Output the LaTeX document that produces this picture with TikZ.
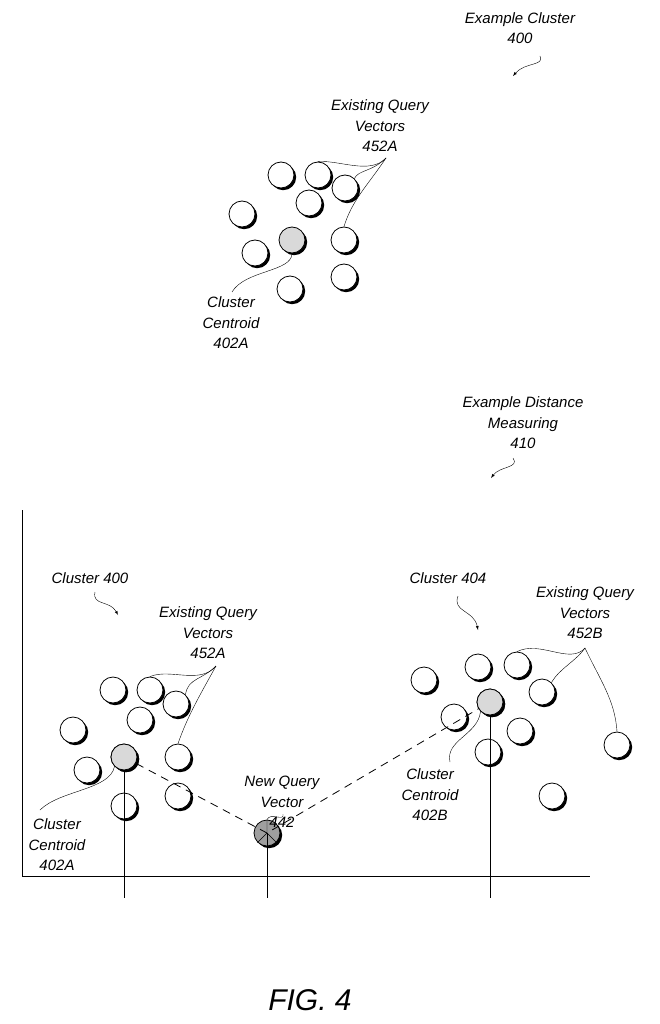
\documentclass[tikz,border=0pt]{standalone}
\usepackage{fontspec}
\setmainfont{Liberation Sans}
\usetikzlibrary{shadows}
\usetikzlibrary{positioning}
\tikzset{
  vec/.style={circle, draw=black, thick, fill=white, minimum size=26pt, inner sep=0pt,
    drop shadow={shadow xshift=2.2pt, shadow yshift=-2.2pt, fill=black, opacity=1}},
  cent/.style={vec, fill=gray!30},
  newq/.style={vec, fill=gray!75},
  lbl/.style={align=center, font=\fontsize{15}{20.5}\selectfont\itshape, inner sep=0pt},
  lead/.style={thin},
  pointer/.style={thin, -latex}
}
\begin{document}
\begin{tikzpicture}[x=1pt,y=-1pt]
  \useasboundingbox (0,0) rectangle (659,1024);
  % top cluster
  \node[lbl] (ex400) at (520,28) {Example Cluster\\400};
  \draw[pointer] (540,56) .. controls (545,66) and (525,62) .. (513,76);
  \foreach \n/\x/\y in {a1/281/175, a2/318/175, a3/345/188, a4/309/203, a5/242/214,
                        a6/344/240, a7/255/253, a8/290/289, a9/344/277}
    \node[vec] (\n) at (\x,\y) {};
  \node[cent] (ca) at (292,240) {};
  \node[lbl] (qa) at (380,126) {Existing Query\\Vectors\\452A};
  \coordinate (qtip) at (386,158);
  \draw[lead] (qtip) .. controls (370,175) and (340,160) .. (a2.north);
  \draw[lead] (qtip) .. controls (372,172) and (358,170) .. (a3.north east);
  \draw[lead] (qtip) .. controls (368,185) and (352,200) .. (a6.north);
  \node[lbl] (la) at (231,323) {Cluster\\Centroid\\402A};
  \draw[lead] (ca.south) .. controls (292,272) and (245,270) .. (232,292);
  % bottom
  \node[lbl] (ex410) at (523,423) {Example Distance\\Measuring\\410};
  \draw[pointer] (513,458) .. controls (520,468) and (500,466) .. (491,478);
  \coordinate (o) at (22,876);
  \draw[thick] (22,510) -- (o) -- (590,876);
  % left cluster
  \node[lbl] (c400) at (90,578) {Cluster 400};
  \draw[pointer] (95,592) .. controls (92,606) and (110,600) .. (118,615);
  \foreach \n/\x/\y in {b1/113/690, b2/150/690, b3/176/704, b4/140/720, b5/73/730,
                        b6/178/757, b7/87/770, b8/124/806, b9/178/796}
    \node[vec] (\n) at (\x,\y) {};
  \node[cent] (cb) at (124,757) {};
  \node[lbl] (qb) at (208,633) {Existing Query\\Vectors\\452A};
  \coordinate (qbtip) at (216,666);
  \draw[lead] (qbtip) .. controls (200,685) and (170,668) .. (b2.north);
  \draw[lead] (qbtip) .. controls (202,680) and (188,678) .. (b3.north east);
  \draw[lead] (qbtip) .. controls (200,695) and (188,715) .. (b6.north);
  \node[lbl] (lb) at (57,845) {Cluster\\Centroid\\402A};
  \draw[lead] (cb.south west) .. controls (110,790) and (60,790) .. (40,810);
  % new query vector
  \node[newq] (nq) at (267,833) {};
  \draw[thin] (nq.center) -- (nq.north) (nq.center) -- (nq.south west) (nq.center) -- (nq.south east);
  \node[lbl] (lnq) at (282,802) {New Query\\Vector\\442};
  \draw[lead] (nq.north) .. controls (270,812) and (285,822) .. (283,814);
  % right cluster
  \node[lbl] (c404) at (448,578) {Cluster 404};
  \draw[pointer] (458,596) .. controls (452,612) and (474,610) .. (478,630);
  \foreach \n/\x/\y in {d1/424/680, d2/478/667, d3/517/665, d4/542/692, d5/454/717,
                        d6/520/731, d7/488/752, d8/617/745, d9/552/796}
    \node[vec] (\n) at (\x,\y) {};
  \node[cent] (cd) at (490,702) {};
  \node[lbl] (qd) at (585,613) {Existing Query\\Vectors\\452B};
  \coordinate (qdtip) at (585,648);
  \draw[lead] (qdtip) .. controls (570,665) and (540,640) .. (d3.north);
  \draw[lead] (qdtip) .. controls (575,662) and (560,668) .. (d4.north east);
  \draw[lead] (qdtip) .. controls (600,680) and (615,700) .. (d8.north);
  \node[lbl] (ld) at (430,795) {Cluster\\Centroid\\402B};
  \draw[lead] (cd.south west) .. controls (478,735) and (445,740) .. (450,762);
  % verticals and distances
  \draw[thin] (cb.center) -- (124,898);
  \draw[thin] (nq.center) -- (267,898);
  \draw[thin] (cd.center) -- (490,898);
  \draw[thick, dashed, dash pattern=on 8pt off 6pt] (cb.center) -- (nq.center) -- (cd.center);
  \node[cent] at (cb) {};
  \node[cent] at (cd) {};
  \node[font=\fontsize{30}{36}\selectfont\itshape] (fig) at (310,1000) {FIG. 4};
\end{tikzpicture}
\end{document}
